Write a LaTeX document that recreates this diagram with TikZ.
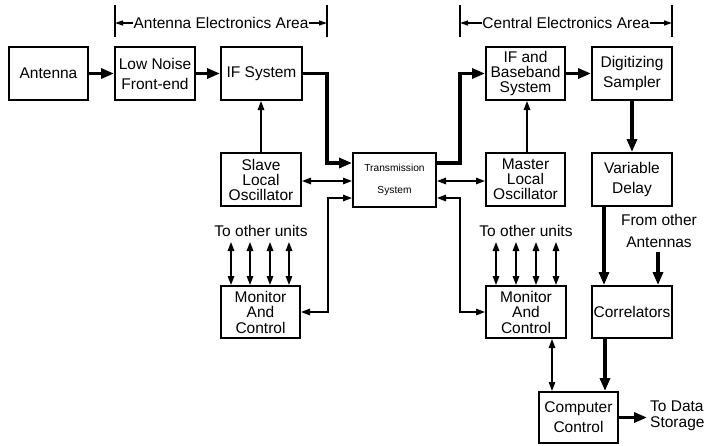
\documentclass[tikz,border=0pt]{standalone}
\usepackage{fontspec}
\setmainfont{Liberation Sans}
\usetikzlibrary{arrows.meta}
\begin{document}
\begin{tikzpicture}[x=1pt,y=-1pt,
 box/.style={draw,line width=2pt,minimum width=80pt,minimum height=53pt,inner sep=0pt,align=center,font=\fontsize{15.5}{15}\selectfont},
 two/.style={font=\fontsize{15.5}{20}\selectfont},
 sig/.style={line width=3.2pt,-{Triangle[length=13pt,width=10pt]}},
 ctl/.style={line width=1.5pt,-{Triangle[length=9pt,width=6.5pt]}},
 bictl/.style={line width=1.5pt,{Triangle[length=9pt,width=6.5pt]}-{Triangle[length=9pt,width=6.5pt]}},
 brk/.style={line width=1.2pt,-{Triangle[length=8pt,width=5pt]}},
 bar/.style={line width=2pt},
 lbl/.style={inner sep=0pt,align=center,font=\fontsize{15.5}{15}\selectfont}]
\useasboundingbox (0,0) rectangle (710,445);

% boxes
\node[box,minimum width=79pt] (ant) at (48.5,73.5) {Antenna};
\node[box,two] (lna) at (155,73.5) {Low Noise\\Front-end};
\node[box,minimum width=81pt] (ifs) at (261.5,73.5) {IF System};
\node[box,minimum width=79pt] (ifb) at (525.5,73.5) {IF and\\Baseband\\System};
\node[box,two] (dig) at (632,73.5) {Digitizing\\Sampler};
\node[box] (slo) at (261,179.5) {Slave\\Local\\Oscillator};
\node[box,minimum width=83pt,minimum height=54pt,font=\fontsize{10.2}{22}\selectfont] (trans) at (394.5,180) {Transmission\\System};
\node[box,minimum width=79pt] (mlo) at (525.5,179.5) {Master\\Local\\Oscillator};
\node[box,two] (vd) at (632,179.5) {Variable\\Delay};
\node[box,minimum width=79pt,minimum height=52pt,font=\fontsize{15.5}{15.5}\selectfont] (mc1) at (260.5,312) {Monitor\\And\\Control};
\node[box,minimum height=52pt,font=\fontsize{15.5}{15.5}\selectfont] (mc2) at (526,312) {Monitor\\And\\Control};
\node[box,minimum height=52pt] (cor) at (632,312) {Correlators};
\node[box,two,minimum width=79pt,minimum height=51pt] (cc) at (578.5,417.5) {Computer\\Control};

% labels
\node[lbl] (aea) at (221,23) {Antenna Electronics Area};
\node[lbl] (cea) at (566,23) {Central Electronics Area};
\node[lbl] (tou1) at (261,231) {To other units};
\node[lbl] (tou2) at (526,231) {To other units};
\node[lbl,font=\fontsize{15.5}{22}\selectfont] (foa) at (659,231) {From other\\Antennas};
\node[lbl,align=left,anchor=west,font=\fontsize{15.5}{16}\selectfont] (tds) at (650,416) {To Data\\Storage};

% bracket bars
\coordinate (a1t) at (115,5); \coordinate (a1b) at (115,37); \coordinate (a1m) at (115,23);
\coordinate (a2t) at (327,5); \coordinate (a2b) at (327,37); \coordinate (a2m) at (327,23);
\coordinate (c1t) at (460,5); \coordinate (c1b) at (460,37); \coordinate (c1m) at (460,23);
\coordinate (c2t) at (672,5); \coordinate (c2b) at (672,37); \coordinate (c2m) at (672,23);
\draw[bar] (a1t) -- (a1b);
\draw[bar] (a2t) -- (a2b);
\draw[bar] (c1t) -- (c1b);
\draw[bar] (c2t) -- (c2b);
\draw[brk] (aea.west) -- (a1m);
\draw[brk] (aea.east) -- (a2m);
\draw[brk] (cea.west) -- (c1m);
\draw[brk] (cea.east) -- (c2m);

% signal path
\draw[sig] (ant) -- (lna);
\draw[sig] (lna) -- (ifs);
\draw[sig] (ifs.east) -- (327,73.5) |- ([yshift=17pt]trans.west);
\draw[sig] ([yshift=17pt]trans.east) -- (460,163) |- (ifb.west);
\draw[sig] (ifb) -- (dig);
\draw[sig] (dig) -- (vd);
\draw[sig] ([xshift=-28pt]vd.south) -- ([xshift=-28pt]cor.north);
\coordinate (foab) at (658,252);
\draw[sig] (foab) -- (cor.north -| foab);
\draw[sig] ([xshift=-27pt]cor.south) -- ([xshift=26.5pt]cc.north);
\coordinate (tdsa) at (647,417.5);
\draw[sig] (cc.east) -- (tdsa);

% control
\draw[ctl] (slo) -- (ifs.south -| slo);
\draw[ctl] ([xshift=1.5pt]mlo.north) -- ([xshift=1.5pt]ifb.south);
\draw[bictl] ([yshift=-1.5pt]slo.east) -- ([yshift=-1pt]trans.west);
\draw[bictl] ([yshift=-1pt]trans.east) -- ([yshift=-1.5pt]mlo.west);
\draw[bictl] ([yshift=-18pt]trans.west) -- (328,198) |- (mc1.east);
\draw[bictl] ([yshift=-18pt]trans.east) -- (460,198) |- (mc2.west);
\draw[bictl] ([xshift=26pt]mc2.south) -- ([xshift=-26.5pt]cc.north);
\foreach \d in {-29.5,-10.5,9.5,28.5}
  \draw[bictl] ([xshift=\d pt,yshift=43pt]mc1.north) -- ([xshift=\d pt]mc1.north);
\foreach \d in {-30,-10,10,30}
  \draw[bictl] ([xshift=\d pt,yshift=43pt]mc2.north) -- ([xshift=\d pt]mc2.north);
\end{tikzpicture}
\end{document}
